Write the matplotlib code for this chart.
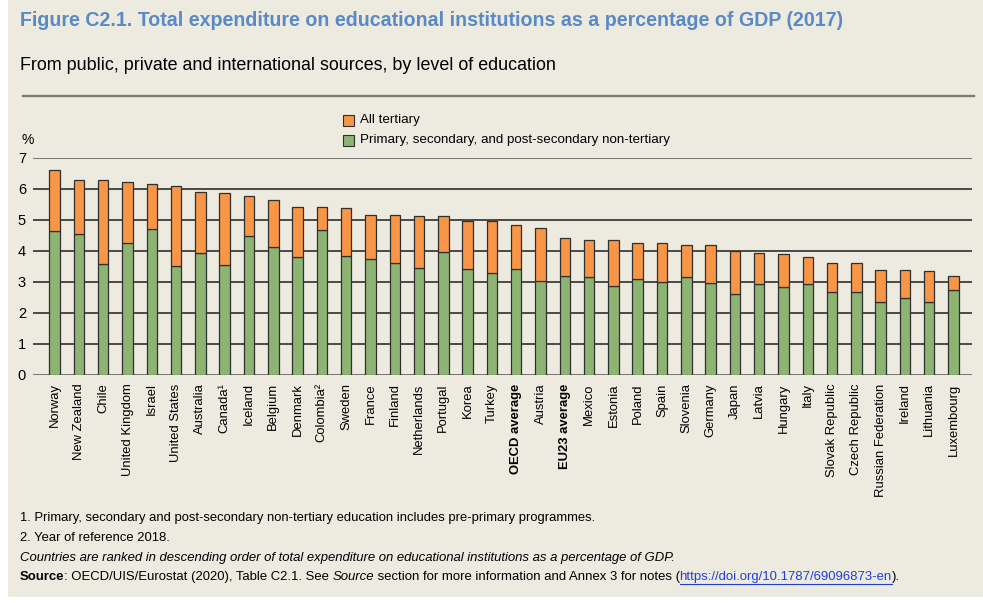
import matplotlib
matplotlib.use("Agg")
import matplotlib.pyplot as plt
from matplotlib.patches import Rectangle
from matplotlib.lines import Line2D
import numpy as np

plt.rcParams['font.family'] = ['Liberation Sans', 'DejaVu Sans']

# data (% of GDP, 2017)
countries = ["Norway", "New Zealand", "Chile", "United Kingdom", "Israel",
             "United States", "Australia", "Canada\u00b9", "Iceland", "Belgium",
             "Denmark", "Colombia\u00b2", "Sweden", "France", "Finland",
             "Netherlands", "Portugal", "Korea", "Turkey", "OECD average",
             "Austria", "EU23 average", "Mexico", "Estonia", "Poland", "Spain",
             "Slovenia", "Germany", "Japan", "Latvia", "Hungary", "Italy",
             "Slovak Republic", "Czech Republic", "Russian Federation",
             "Ireland", "Lithuania", "Luxembourg"]
primary = [4.63, 4.54, 3.58, 4.27, 4.70, 3.52, 3.93, 3.55, 4.49, 4.13,
           3.80, 4.67, 3.84, 3.74, 3.60, 3.46, 3.96, 3.43, 3.28, 3.43,
           3.02, 3.20, 3.16, 2.88, 3.09, 2.99, 3.16, 2.96, 2.62, 2.94,
           2.83, 2.93, 2.67, 2.67, 2.35, 2.47, 2.35, 2.73]
total = [6.60, 6.28, 6.28, 6.21, 6.15, 6.09, 5.91, 5.87, 5.77, 5.63,
         5.43, 5.43, 5.39, 5.16, 5.16, 5.12, 5.12, 4.98, 4.98, 4.85,
         4.73, 4.42, 4.37, 4.34, 4.25, 4.25, 4.19, 4.19, 3.99, 3.95,
         3.90, 3.82, 3.61, 3.61, 3.40, 3.40, 3.37, 3.20]
bold_labels = ["OECD average", "EU23 average"]
legend_labels = ["All tertiary", "Primary, secondary, and post-secondary non-tertiary"]

W, H = 983, 603
fig = plt.figure(figsize=(W / 100, H / 100), dpi=100)
fig.patch.set_facecolor('white')

def fx(x):
    return x / W

def fy(y):
    return 1 - y / H

bg = '#EDEAE0'
fig.patches.append(Rectangle((fx(8), fy(597)), 1 - fx(8), fy(0) - fy(597),
                             transform=fig.transFigure, facecolor=bg,
                             edgecolor='none', zorder=-10))
renderer = fig.canvas.get_renderer()

def fit_text(x, y, s, width, size=10, **kw):
    t = fig.text(fx(x), fy(y), s, fontsize=size, **kw)
    w = t.get_window_extent(renderer).width
    t.set_fontsize(size * width / w)
    return t

fit_text(20, 20, "Figure C2.1. Total expenditure on educational institutions as a "
         "percentage of GDP (2017)", 823, size=14, fontweight='bold',
         color='#5A8AC6', va='center')
fit_text(20, 66, "From public, private and international sources, by level of "
         "education", 537, size=12, color='black', va='center')
fig.lines.append(Line2D([fx(23), fx(974)], [fy(96), fy(96)],
                        transform=fig.transFigure, color='#7b7b72', lw=1.7))

# chart area
ax = fig.add_axes([fx(33), fy(375), fx(972) - fx(33), fy(158) - fy(375)])
ax.set_facecolor('none')
for s in ax.spines.values():
    s.set_visible(False)

x = np.arange(len(countries))
primary = np.array(primary)
tertiary = np.array(total) - primary
orange, green, edge = '#F79646', '#8EB474', '#2f2f2f'

for v in range(0, 8):
    ax.axhline(v, color='#555555' if v in (0, 7) else '#1e1e1e', lw=1.1, zorder=1)

ax.bar(x, primary, width=0.43, color=green, edgecolor=edge, lw=0.9, zorder=3)
ax.bar(x, tertiary, bottom=primary, width=0.43, color=orange, edgecolor=edge,
       lw=0.9, zorder=3)

ax.set_xlim(-0.89, len(countries) - 1 + 0.76)
ax.set_ylim(0, 7)
ax.set_yticks(range(0, 8))
ax.tick_params(axis='y', length=0, pad=5, labelsize=10.5)
ax.tick_params(axis='x', length=0, pad=6)
ax.set_xticks(x)
ax.set_xticklabels(countries, rotation=90, fontsize=9.4, va='top')
for lab in ax.get_xticklabels():
    if lab.get_text() in bold_labels:
        lab.set_fontweight('bold')

fig.text(fx(22), fy(140), "%", fontsize=10, va='center', ha='left')

# legend
for i, (lab, col) in enumerate(zip(legend_labels, [orange, green])):
    yy = 120 + 20 * i
    fig.patches.append(Rectangle((fx(343), fy(yy + 6)), fx(11), 11 / H,
                                 transform=fig.transFigure, facecolor=col,
                                 edgecolor=edge, lw=0.8))
    fig.text(fx(360), fy(yy), lab, fontsize=9.6, va='center')

# notes
f1 = fit_text(20, 518, "1. Primary, secondary and post-secondary non-tertiary "
              "education includes pre-primary programmes.", 578, size=9,
              va='center')
fs = f1.get_fontsize()
fig.text(fx(20), fy(538), "2. Year of reference 2018.", fontsize=fs, va='center')
fit_text(20, 558, "Countries are ranked in descending order of total "
         "expenditure on educational institutions as a percentage of GDP.",
         656, size=fs, va='center', style='italic')

pieces = [("Source", dict(fontweight='bold')),
          (": OECD/UIS/Eurostat (2020), Table C2.1. See ", {}),
          ("Source", dict(style='italic')),
          (" section for more information and Annex 3 for notes (", {}),
          ("https://doi.org/10.1787/69096873-en", dict(color='#1F3FE0')),
          (").", {})]

# size the source line so it ends where the reference one does
probe = [fig.text(0, 0, txt, fontsize=fs, **kw) for txt, kw in pieces]
tot = sum(p.get_window_extent(renderer).width for p in probe)
for p in probe:
    p.remove()
fs2 = fs * 878 / tot

xpos = 20
for txt, kw in pieces:
    if txt.startswith("https"):
        xpos -= 1
    t = fig.text(fx(xpos), fy(577), txt, fontsize=fs2, va='center', **kw)
    bb = t.get_window_extent(renderer)
    if txt.startswith("https"):
        fig.lines.append(Line2D([fx(bb.x0), fx(bb.x1)],
                                [fy(584), fy(584)], transform=fig.transFigure,
                                color='#1F3FE0', lw=0.8))
    xpos += bb.width

fig.savefig("out.png", dpi=100, facecolor=fig.get_facecolor())
